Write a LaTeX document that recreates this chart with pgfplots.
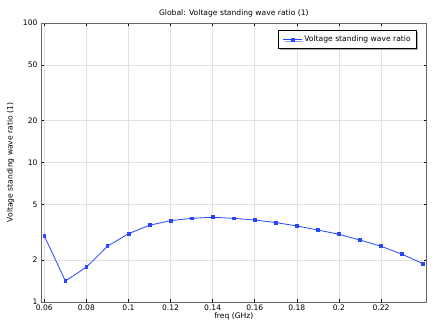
\documentclass[border=0pt]{standalone}
\usepackage{pgfplots}
\pgfplotsset{compat=1.18}
\usepackage{fontspec}
\setmainfont{DejaVu Sans}
\usetikzlibrary{shadows}
\definecolor{lineblue}{RGB}{40,70,255}
\definecolor{gridgray}{RGB}{225,225,225}
\begin{document}
\begin{tikzpicture}
\begin{axis}[
  scale only axis,
  width=385.7pt, height=279pt,
  ymode=log,
  xmin=0.0584, xmax=0.2417,
  ymin=1, ymax=100,
  xtick={0.06,0.08,0.1,0.12,0.14,0.16,0.18,0.2,0.22},
  xticklabels={0.06,0.08,0.1,0.12,0.14,0.16,0.18,0.2,0.22},
  ytick={1,2,5,10,20,50,100},
  yticklabels={1,2,5,10,20,50,100},
  minor ytick={},
  tick align=inside,
  major tick length=3pt,
  tick style={black, line width=0.6pt},
  grid=major,
  major grid style={gridgray, line width=0.6pt},
  axis line style={black!60, line width=0.9pt},
  tick label style={font=\fontsize{7.6}{8.5}\selectfont, black},
  xticklabel style={yshift=1pt},
  label style={font=\fontsize{7.6}{8.5}\selectfont},
  title style={font=\fontsize{7.6}{8.5}\selectfont, yshift=-4pt},
  title={Global: Voltage standing wave ratio (1)},
  xlabel={freq (GHz)},
  ylabel={Voltage standing wave ratio (1)},
  xlabel style={yshift=4pt},
  ylabel style={yshift=2pt},
  legend style={at={(0.975,0.975)}, anchor=north east, font=\fontsize{7.6}{8.5}\selectfont,
    draw=black, line width=0.8pt, fill=white, inner xsep=4pt, inner ysep=3.5pt,
    drop shadow={shadow xshift=1.5pt, shadow yshift=-1.5pt, fill=black!65}},
  legend image post style={xscale=1.1},
  legend cell align=left,
]
\addplot[lineblue, line width=0.8pt, mark=square*, mark size=1.4pt, mark options={solid, fill=lineblue}]
coordinates {
(0.06,2.97) (0.07,1.414) (0.08,1.78) (0.09,2.51) (0.10,3.09) (0.11,3.55)
(0.12,3.83) (0.13,3.98) (0.14,4.05) (0.15,3.98) (0.16,3.87) (0.17,3.71)
(0.18,3.51) (0.19,3.28) (0.20,3.06) (0.21,2.78) (0.22,2.51) (0.23,2.20) (0.24,1.88)
};
\addlegendentry{Voltage standing wave ratio}
\end{axis}
\path[use as bounding box] (-41pt,-22pt) rectangle (404pt,302pt);
\end{tikzpicture}
\end{document}
